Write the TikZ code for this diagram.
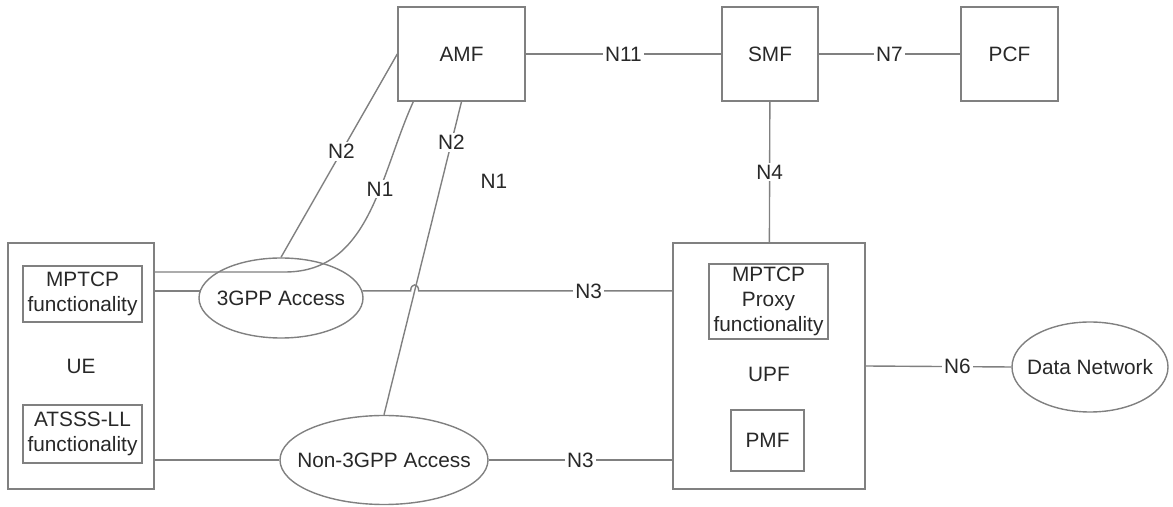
\documentclass[tikz,border=0pt]{standalone}
\usepackage{fontspec}
\setmainfont{Liberation Sans}
\usetikzlibrary{shapes.geometric, calc}
\definecolor{linegray}{RGB}{128,128,128}
\definecolor{inkgray}{RGB}{40,40,40}
\tikzset{
    nf/.style = {draw=linegray, line width=0.7pt, inner sep=0pt, align=center, text=inkgray},
    access/.style = {nf, ellipse},
    iface/.style = {fill=white, inner sep=1pt, text=inkgray},
    link/.style = {draw=linegray, line width=0.7pt}
}
\begin{document}
\begin{tikzpicture}[x=0.5pt, y=-0.5pt, font=\fontsize{10.4pt}{12.5pt}\selectfont]
    \useasboundingbox (0,0) rectangle (1173,507);
    % Control plane
    \node [nf, minimum width=63.5pt, minimum height=47pt] (amf) at (461.5, 54) {AMF};
    \node [nf, minimum width=48pt, minimum height=47pt] (smf) at (770, 54) {SMF};
    \node [nf, minimum width=48.5pt, minimum height=47pt] (pcf) at (1009.5, 54) {PCF};
    % UE
    \node [nf, minimum width=73pt, minimum height=123pt] (ue) at (81, 366) {UE};
    \node [nf, minimum width=59.5pt, minimum height=28pt] (mptcp) at (82.5, 294) {MPTCP\\functionality};
    \node [nf, minimum width=59.5pt, minimum height=29pt] (atsss) at (82.5, 434) {ATSSS-LL\\functionality};
    % Access networks
    \node [access, minimum width=82pt, minimum height=40pt] (tgpp) at (281, 298) {\makebox[0pt]{3GPP Access}};
    \node [access, minimum width=104pt, minimum height=44.5pt] (ngpp) at (384, 460) {\makebox[0pt]{Non-3GPP Access}};
    % User plane
    \node [nf, minimum width=96pt, minimum height=123pt] (upf) at (769, 366) {};
    \node [text=inkgray] (upflbl) at (769, 374) {UPF};
    \node [nf, minimum width=59.5pt, minimum height=37.5pt] (proxy) at (768.5, 301.5) {MPTCP\\Proxy\\functionality};
    \node [nf, minimum width=36.5pt, minimum height=30.5pt] (pmf) at (767.5, 440.5) {PMF};
    \node [access, minimum width=78pt, minimum height=45pt] (dn) at (1090, 367) {\makebox[0pt]{Data Network}};

    %% Service interfaces
    \draw [link] (amf) -- node [iface] {N11} (smf);
    \draw [link] (smf) -- node [iface] {N7} (pcf);
    \draw [link] (smf) -- node [iface] {N4} (upf);
    \draw [link] (upf.east) -- node [iface, pos=0.63] {N6} (dn.west);
    %% AMF to access
    \draw [link] (amf.west) -- node [iface, pos=0.48] {N2} (tgpp.north);
    \draw [link] (amf.south) -- node [iface, pos=0.13] {N2} (ngpp.north);
    \coordinate (n1bend) at (285, 272);
    \draw [link] ($(amf.south west)+(16,0)$) .. controls (380, 175) and (370, 272) ..
        node [iface, pos=0.38] {N1} (n1bend) -- (ue.east |- n1bend);
    \node [text=inkgray] (n1free) at (494, 181) {N1};
    %% UE to access, access to UPF
    \draw [link] (ue.east |- tgpp.175) -- (tgpp.175);
    \draw [link] (ue.east |- ngpp.west) -- (ngpp.west);
    \coordinate (n3top) at (upf.west |- tgpp.5);
    \coordinate (hop) at (intersection of amf.south--ngpp.north and tgpp.5--n3top);
    \draw [link] (tgpp.5) -- ($(hop)+(-4,0)$) .. controls +(0,-8) and +(0,-8) .. ($(hop)+(4,0)$)
        -- node [iface, pos=0.67] {N3} (n3top);
    \draw [link] (ngpp.east) -- node [iface] {N3} (upf.west |- ngpp.east);
\end{tikzpicture}
\end{document}
